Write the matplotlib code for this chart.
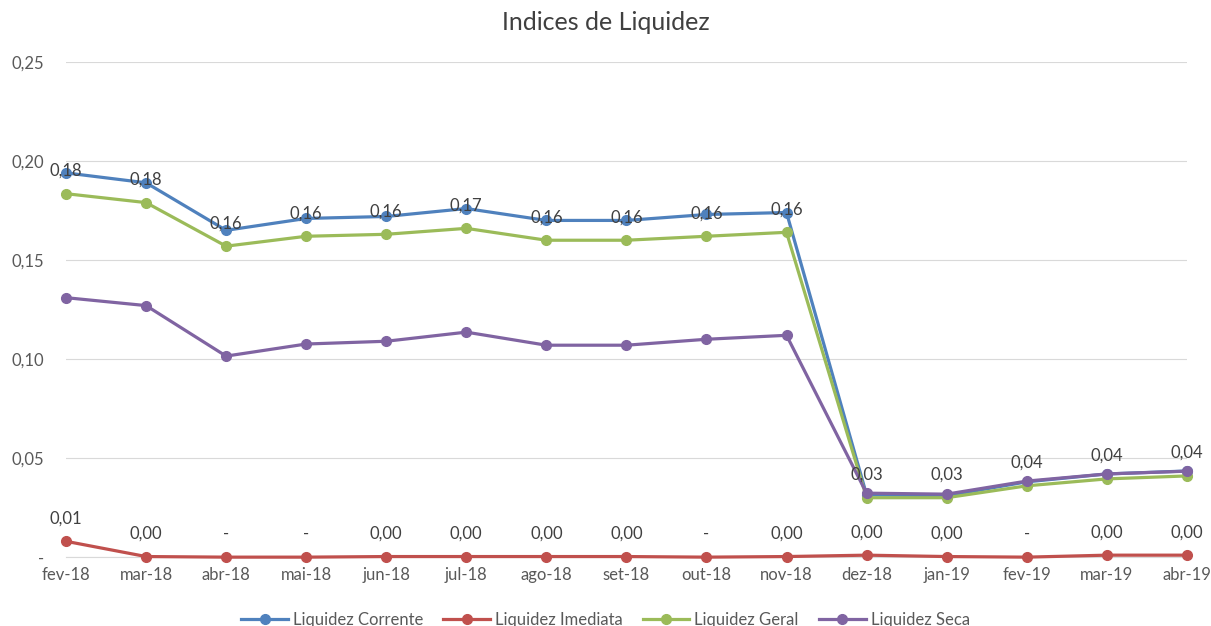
import matplotlib
matplotlib.use('Agg')
import matplotlib.pyplot as plt
import numpy as np

plt.rcParams['font.family'] = ['Lato', 'DejaVu Sans']

# data
months = ['fev-18', 'mar-18', 'abr-18', 'mai-18', 'jun-18', 'jul-18', 'ago-18', 'set-18',
          'out-18', 'nov-18', 'dez-18', 'jan-19', 'fev-19', 'mar-19', 'abr-19']
liq_corrente = [0.194, 0.189, 0.165, 0.171, 0.172, 0.176, 0.170, 0.170,
                0.173, 0.174, 0.0315, 0.031, 0.038, 0.042, 0.0435]
liq_imediata = [0.008, 0.0003, 0.0, 0.0, 0.0003, 0.0003, 0.0003, 0.0003,
                0.0, 0.0003, 0.001, 0.0003, 0.0, 0.001, 0.001]
liq_geral = [0.1835, 0.179, 0.157, 0.162, 0.163, 0.166, 0.160, 0.160,
             0.162, 0.164, 0.030, 0.030, 0.036, 0.0395, 0.041]
liq_seca = [0.131, 0.127, 0.1015, 0.1076, 0.109, 0.1136, 0.107, 0.107,
            0.110, 0.112, 0.0323, 0.0318, 0.0384, 0.042, 0.0434]

series = [
    ('Liquidez Corrente', liq_corrente, '#4f81bd'),
    ('Liquidez Imediata', liq_imediata, '#c0504d'),
    ('Liquidez Geral', liq_geral, '#9bbb59'),
    ('Liquidez Seca', liq_seca, '#8064a2'),
]
labelled = ['Liquidez Imediata', 'Liquidez Geral']


def fmt(v):
    if v == 0:
        return '-'
    return f'{v:.2f}'.replace('.', ',')


fig = plt.figure(figsize=(12.11, 6.26), dpi=100)
fig.set_facecolor('white')
ax = fig.add_axes([0.0545, 0.110, 0.9255, 0.791])

x = np.arange(len(months))
for name, vals, col in series:
    ax.plot(x, vals, color=col, lw=2.3, marker='o', ms=7, label=name,
            clip_on=False, zorder=3)
    if name in labelled:
        for xi, v in zip(x, vals):
            ax.annotate(fmt(v), (xi, v), xytext=(0, 16.5), textcoords='offset points',
                        ha='center', va='center', fontsize=12, color='#404040', zorder=5)

ax.set_xlim(0, 14)
ax.set_ylim(0, 0.25)
yt = [0, 0.05, 0.10, 0.15, 0.20, 0.25]
ax.set_yticks(yt)
ax.set_yticklabels([fmt(v) for v in yt], fontsize=12, color='#595959')
ax.set_xticks(x)
ax.set_xticklabels(months, fontsize=12, color='#595959')
ax.tick_params(axis='both', length=0, pad=7)
ax.tick_params(axis='y', pad=16)
ax.grid(axis='y', color='#d9d9d9', lw=0.8)
ax.set_axisbelow(True)
for s in ['top', 'right', 'left']:
    ax.spines[s].set_visible(False)
ax.spines['bottom'].set_color('#d9d9d9')

fig.suptitle('Indices de Liquidez', y=0.982, fontsize=18, color='#404040')

fig.legend(loc='center', bbox_to_anchor=(0.5, 0.01), ncol=4, frameon=False,
           fontsize=12, labelcolor='#595959', handlelength=2.8, columnspacing=1.2,
           handletextpad=0.3)

fig.savefig('out.png', dpi=100)
